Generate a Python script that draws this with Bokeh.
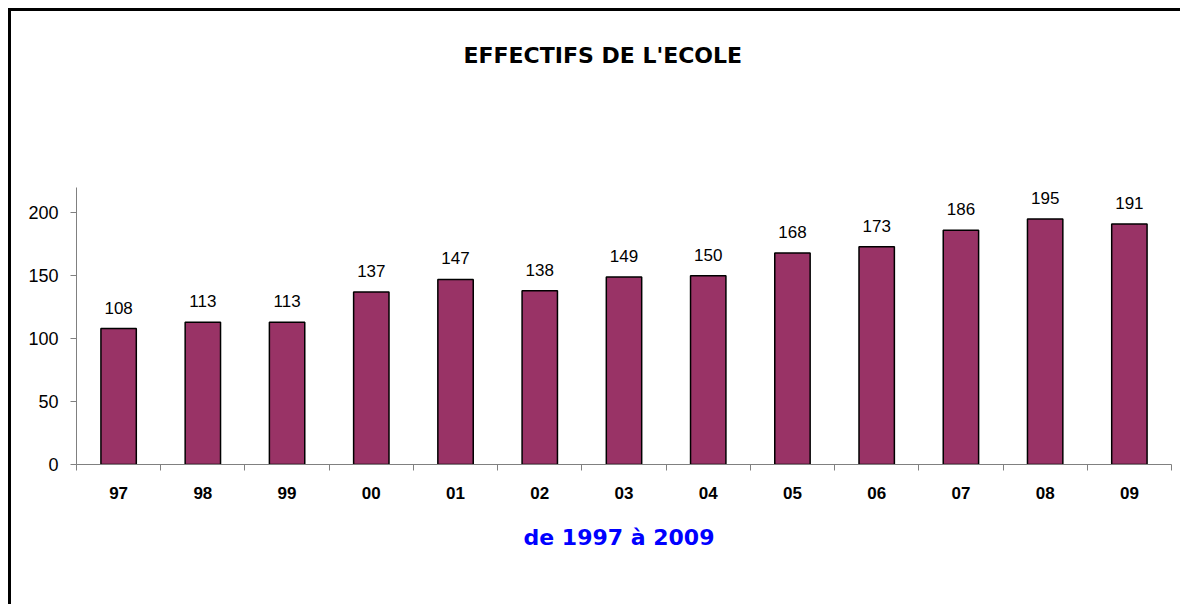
from bokeh.plotting import figure
from bokeh.models import ColumnDataSource, Range1d, FixedTicker, LabelSet, Title
from bokeh.core.properties import value
from bokeh.embed import file_html
from bokeh.resources import INLINE

years = ["97", "98", "99", "00", "01", "02", "03", "04", "05", "06", "07", "08", "09"]
effectifs = [108, 113, 113, 137, 147, 138, 149, 150, 168, 173, 186, 195, 191]
y_ticks = [0, 50, 100, 150, 200]
title_text = "EFFECTIFS DE L'ECOLE"
subtitle_text = "de 1997 à 2009"

n = len(years)
xs = [i + 0.5 for i in range(n)]
src = ColumnDataSource(dict(x=xs, top=effectifs, lbl=[str(v) for v in effectifs]))

p = figure(width=1172, height=596, output_backend="svg", toolbar_location=None,
           x_range=Range1d(0, n), y_range=Range1d(0, 220),
           min_border_left=65, min_border_right=12, min_border_top=176, min_border_bottom=143)
p.styles = {"margin-left": "8px", "margin-top": "8px",
            "border-top": "3px solid black", "border-left": "3px solid black"}
p.outline_line_color = None
p.grid.visible = False
p.background_fill_color = "white"
p.border_fill_color = "white"

p.vbar(x="x", top="top", width=0.42, bottom=0, source=src,
       fill_color="#993366", line_color="black", line_width=1.5)

labels = LabelSet(x="x", y="top", text="lbl", source=src, text_align="center",
                  text_baseline="alphabetic", y_offset=15, text_font=value("Liberation Sans"),
                  text_font_size=value("17px"), text_color="black")
p.add_layout(labels)

xt = FixedTicker(ticks=xs, minor_ticks=list(range(n + 1)))
xa = p.xaxis[0]
xa.ticker = xt
xa.major_label_overrides = {x: y for x, y in zip(xs, years)}
xa.major_tick_line_color = None
xa.major_tick_out = 0
xa.major_tick_in = 0
xa.minor_tick_line_color = "#808080"
xa.minor_tick_out = 6
xa.minor_tick_in = 0
xa.axis_line_color = "#808080"
xa.major_label_text_font = "Liberation Sans"
xa.major_label_text_font_style = "bold"
xa.major_label_text_font_size = "17px"
xa.major_label_text_color = "black"
xa.major_label_standoff = 16

ya = p.yaxis[0]
ya.ticker = FixedTicker(ticks=y_ticks)
ya.minor_tick_line_color = None
ya.major_tick_line_color = "#808080"
ya.major_tick_out = 6
ya.major_tick_in = 0
ya.axis_line_color = "#808080"
ya.major_label_text_font = "Liberation Sans"
ya.major_label_text_font_size = "18px"
ya.major_label_text_color = "black"
ya.major_label_standoff = 12

# blank spacer between the title and the plot area
p.add_layout(Title(text=" ", standoff=112, text_font_size="1px", text_color="white"), "above")
p.add_layout(Title(text=title_text, align="left", offset=387, text_font="DejaVu Sans",
                   text_font_style="bold", text_font_size="22px", text_color="black",
                   standoff=10), "above")
p.add_layout(Title(text=subtitle_text, align="left", offset=447, text_font="DejaVu Sans",
                   text_font_style="bold", text_font_size="22px", text_color="#0000FF",
                   standoff=43), "below")

open("out.html", "w").write(file_html(p, INLINE))
